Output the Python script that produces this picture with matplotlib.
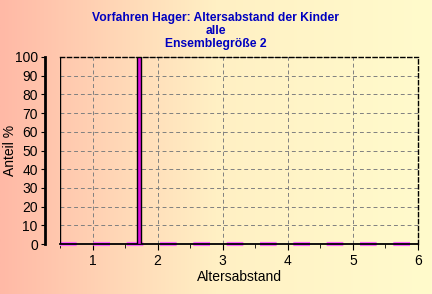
import numpy as np
import matplotlib
matplotlib.use('Agg')
import matplotlib.pyplot as plt
from matplotlib.colors import LinearSegmentedColormap

# data
bar_x = [1.72]
bar_share = [100]
base_x = [0.5, 6.0]
base_y = [0, 0]

title = 'Vorfahren Hager: Altersabstand der Kinder\nalle\nEnsemblegröße 2'
x_ticks = [1, 2, 3, 4, 5, 6]
y_ticks = list(range(0, 101, 10))

plt.rcParams['font.family'] = ['Liberation Sans', 'DejaVu Sans']

fig = plt.figure(figsize=(4.32, 2.94), dpi=100)

# background gradient
bg = fig.add_axes([0, 0, 1, 1], zorder=-10)
cmap = LinearSegmentedColormap.from_list('bg', ['#ffb9a6', '#fff0c4', '#fffbcc'])
bg.imshow(np.linspace(0, 1, 256).reshape(1, -1), aspect='auto', cmap=cmap,
          extent=[0, 1, 0, 1])
bg.axis('off')

ax = fig.add_axes([60 / 432, 50 / 294, 358 / 432, 187 / 294])
ax.patch.set_alpha(0)

ax.bar(bar_x, bar_share, width=0.06, color='#e010e0', edgecolor='black',
       linewidth=1, zorder=3)
ax.plot(base_x, base_y, color='#ff60ff', linestyle=(0, (4, 4)), linewidth=3,
        zorder=2, clip_on=False)
ax.axvline(0.5, color='black', linewidth=1, zorder=5)

ax.set_xlim(0.5, 6)
ax.set_ylim(0, 100)
ax.set_xticks(x_ticks)
ax.set_xticks(np.arange(0.5, 6.01, 0.5), minor=True)
ax.set_yticks(y_ticks)

ax.grid(True, color='#808080', linestyle=(0, (4, 3)), linewidth=0.7)
for side in ['top', 'right']:
    ax.spines[side].set_linestyle((0, (3, 2)))
    ax.spines[side].set_linewidth(1)
ax.spines['left'].set_position(('outward', 11))
ax.spines['left'].set_linestyle((0, (2, 1)))
ax.spines['left'].set_linewidth(2)
ax.spines['bottom'].set_linewidth(1.3)

ax.tick_params(axis='both', labelsize=10, length=4, color='black')
ax.tick_params(axis='x', which='minor', length=3)
ax.tick_params(axis='y', pad=2, length=3)

ax.set_xlabel('Altersabstand', fontsize=10, labelpad=1)
ax.set_ylabel('Anteil %', fontsize=10)
ax.yaxis.set_label_coords(-43 / 358, 0.5)
fig.suptitle(title, x=0.5, y=1 - 12 / 294, fontsize=8.7, fontweight='bold',
             color='#0000c0', linespacing=1.1, va='top')

fig.savefig('out.png', dpi=100)
